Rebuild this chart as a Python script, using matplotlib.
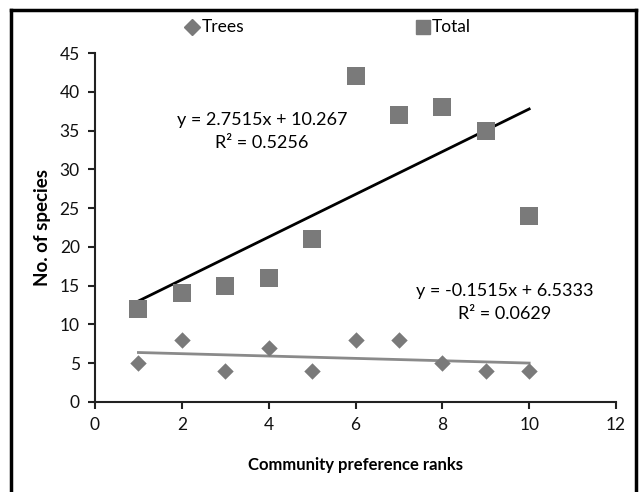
import matplotlib
matplotlib.use("Agg")
import matplotlib.pyplot as plt
from matplotlib.lines import Line2D
import numpy as np

ranks = [1, 2, 3, 4, 5, 6, 7, 8, 9, 10]
trees = [5, 8, 4, 7, 4, 8, 8, 5, 4, 4]
total = [12, 14, 15, 16, 21, 42, 37, 38, 35, 24]
xticks = [0, 2, 4, 6, 8, 10, 12]
yticks = [0, 5, 10, 15, 20, 25, 30, 35, 40, 45]

plt.rcParams['font.family'] = ['Lato', 'DejaVu Sans']

fig = plt.figure(figsize=(6.39, 4.92), dpi=100)
ax = fig.add_axes([95/639, 1-402/492, (616-95)/639, (402-53)/492])

gray = '#7a7a7a'
ax.scatter(ranks, trees, marker='D', s=70, color=gray, zorder=3, linewidths=0)
ax.scatter(ranks, total, marker='s', s=160, color=gray, zorder=3, linewidths=0)

x = np.array(ranks, dtype=float)
for ys, col in ((trees, '#8a8a8a'), (total, 'black')):
    m, b = np.polyfit(x, np.array(ys, dtype=float), 1)
    xx = np.array([x.min(), x.max()])
    ax.plot(xx, m*xx + b, color=col, lw=2, zorder=2)

ax.set_xlim(0, 12)
ax.set_ylim(0, 45)
ax.set_xticks(xticks)
ax.set_yticks(yticks)
for s in ('top', 'right'):
    ax.spines[s].set_visible(False)
for s in ('left', 'bottom'):
    ax.spines[s].set_linewidth(1.5)
    ax.spines[s].set_color('#222222')
ax.tick_params(axis='both', direction='out', length=5, width=1.5, color='#222222',
               labelsize=12.5, labelcolor='#111111', pad=6)

ax.set_xlabel('Community preference ranks', fontsize=12, fontweight='bold', labelpad=17)
ax.set_ylabel('No. of species', fontsize=13.5, fontweight='bold', labelpad=6)

fs = 13
ax.text(262/639, 1-120/492, 'y = 2.7515x + 10.267', transform=fig.transFigure,
        ha='center', va='center', fontsize=fs)
ax.text(262/639, 1-143/492, 'R² = 0.5256', transform=fig.transFigure,
        ha='center', va='center', fontsize=fs)
ax.text(505/639, 1-291/492, 'y = -0.1515x + 6.5333', transform=fig.transFigure,
        ha='center', va='center', fontsize=fs)
ax.text(505/639, 1-314/492, 'R² = 0.0629', transform=fig.transFigure,
        ha='center', va='center', fontsize=fs)

# legend
fig.add_artist(Line2D([192/639], [1-27/492], marker='D', color=gray, markersize=8,
                      linestyle='none', transform=fig.transFigure))
fig.text(202/639, 1-27/492, 'Trees', ha='left', va='center', fontsize=12.5)
fig.add_artist(Line2D([423/639], [1-27/492], marker='s', color=gray, markersize=10,
                      linestyle='none', transform=fig.transFigure))
fig.text(432/639, 1-27/492, 'Total', ha='left', va='center', fontsize=12.5)

# frame
fr = dict(color='black', lw=2.5, transform=fig.transFigure)
fig.add_artist(Line2D([11/639, 11/639], [0, 1-10/492], **fr))
fig.add_artist(Line2D([11/639, 636/639], [1-10/492, 1-10/492], **fr))
fig.add_artist(Line2D([636/639, 636/639], [0, 1-10/492], **fr))

fig.savefig('out.png', dpi=100)
